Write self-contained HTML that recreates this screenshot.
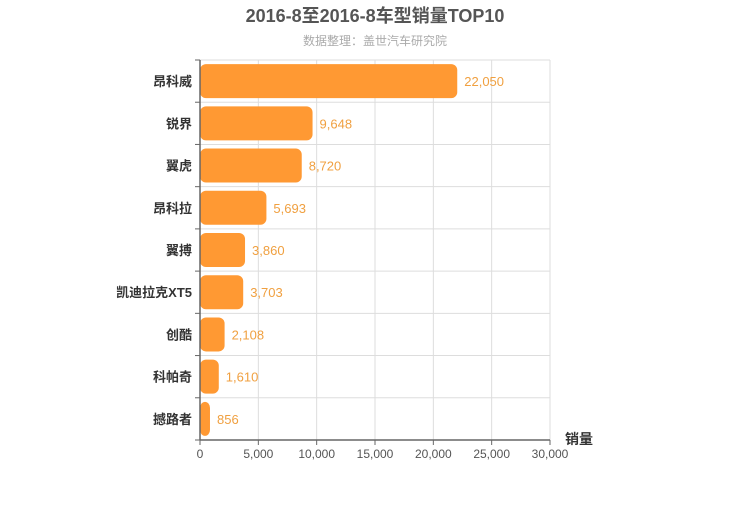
<!DOCTYPE html>
<html><head><meta charset="utf-8"><style>
body{margin:0;background:#fff;width:750px;height:500px;overflow:hidden}
svg{font-family:"Liberation Sans","Noto Sans CJK SC",sans-serif}
</style></head><body>
<svg id="chart" width="750" height="500">
<text x="375" y="22" text-anchor="middle" font-size="18" font-weight="bold" fill="#555">2016-8至2016-8车型销量TOP10</text>
<text x="375" y="45" text-anchor="middle" font-size="12" fill="#aaa">数据整理：盖世汽车研究院</text>
<g id="grid"></g><g id="bars"></g><g id="axes"></g>
<text x="565" y="444" font-size="14" font-weight="bold" fill="#333">销量</text>
</svg>
<script>
const categories=["昂科威","锐界","翼虎","昂科拉","翼搏","凯迪拉克XT5","创酷","科帕奇","撼路者"];
const values=[22050,9648,8720,5693,3860,3703,2108,1610,856];
const xTicks=[0,5000,10000,15000,20000,25000,30000];
const NS="http://www.w3.org/2000/svg";
const L=200,R=550,T=60,B=440,MAX=30000;
const xs=v=>L+(R-L)*v/MAX;
const band=(B-T)/categories.length;
const ys=i=>T+band*i;
function mk(tag,attrs,parent,text){const e=document.createElementNS(NS,tag);for(const k in attrs)e.setAttribute(k,attrs[k]);if(text!==undefined)e.textContent=text;document.getElementById(parent).appendChild(e);return e;}
xTicks.forEach(t=>{
 const g=mk('line',{x1:xs(t),x2:xs(t),y1:T,y2:B,stroke:'#ddd'},'grid');
 
 
 const l=mk('text',{x:xs(t),y:B+18,'text-anchor':'middle','font-size':12,fill:'#555'},'axes',t.toLocaleString('en-US'));
 
 
 const tk=mk('line',{x1:xs(t),x2:xs(t),y1:B,y2:B+5,stroke:'#666'},'axes');
 
 
});
for(let i=0;i<=categories.length;i++){
 const g=mk('line',{x1:L,x2:R,y1:ys(i),y2:ys(i),stroke:'#ddd'},'grid');
 
 
 const tk=mk('line',{x1:L-5,x2:L,y1:ys(i),y2:ys(i),stroke:'#666'},'axes');
 
 
}
categories.forEach((c,i)=>{
 const y=ys(i)+band/2;
 const r=mk('rect',{x:L,y:y-17,width:Math.max(xs(values[i])-L,1),height:34,rx:6,fill:'#ff9933'},'bars');
 
 
 const v=mk('text',{x:xs(values[i])+7,y:y+5,'font-size':13,fill:'#f0a040'},'bars',values[i].toLocaleString('en-US'));
 
 
 const cl=mk('text',{x:L-8,y:y+5,'text-anchor':'end','font-size':13,'font-weight':'bold',fill:'#333'},'axes',c);
 
 
});
const ax=mk('line',{x1:L,x2:R,y1:B,y2:B,stroke:'#666','stroke-width':1.5},'axes');


const ay=mk('line',{x1:L,x2:L,y1:T,y2:B,stroke:'#666','stroke-width':1.5},'axes');


</script>
</body></html>
